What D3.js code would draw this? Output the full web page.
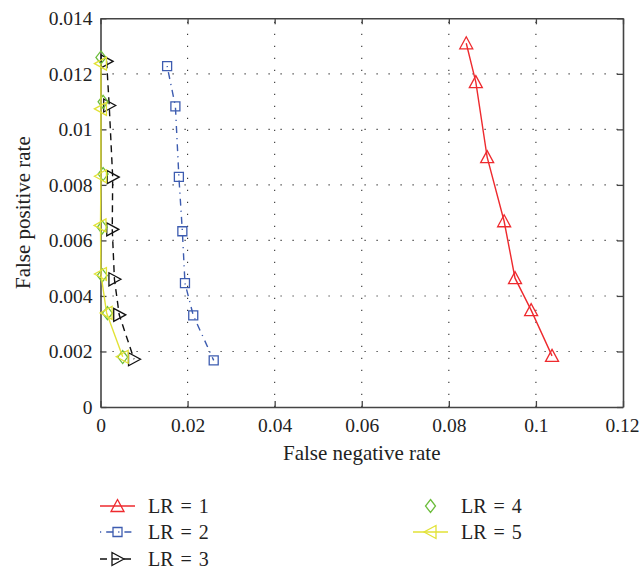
<!DOCTYPE html>
<html><head><meta charset="utf-8">
<script src="https://cdn.jsdelivr.net/npm/d3@7"></script>
<style>body{margin:0;background:#fff}svg{display:block}text{font-family:"Liberation Serif","DejaVu Serif",serif;fill:#222}</style>
</head><body><svg id="c" width="639" height="571"></svg>
<script>
const seriesNames = ["LR = 1","LR = 2","LR = 3","LR = 4","LR = 5"];
const fnr1 = [0.0840,0.0862,0.0888,0.0927,0.0952,0.0989,0.1037];
const fpr1 = [0.01310,0.01170,0.00900,0.00669,0.00464,0.00349,0.00184];
const fnr2 = [0.0153,0.0172,0.0180,0.0188,0.0194,0.0213,0.0260];
const fpr2 = [0.01228,0.01083,0.00829,0.00633,0.00446,0.00330,0.00168];
const fnr3 = [0.0014,0.0020,0.0028,0.0027,0.0032,0.0043,0.0077];
const fpr3 = [0.01245,0.01086,0.00828,0.00640,0.00460,0.00332,0.00172];
const fnr4 = [0.0001,0.0006,0.0006,0.0004,0.0004,0.0016,0.0051];
const fpr4 = [0.01259,0.01099,0.00839,0.00647,0.00474,0.00338,0.00180];
const fnr5 = [0.0001,0.0001,0.0001,0.0000,0.0001,0.0014,0.0051];
const fpr5 = [0.01237,0.01074,0.00831,0.00654,0.00479,0.00339,0.00181];
const xTicks = [0,0.02,0.04,0.06,0.08,0.1,0.12];
const yTicks = [0,0.002,0.004,0.006,0.008,0.01,0.012,0.014];

const svg = d3.select("#c");
const L=100.5, R=623, T=18.3, B=407;
const x = d3.scaleLinear().domain([0,0.12]).range([L,R]);
const y = d3.scaleLinear().domain([0,0.014]).range([B,T]);

// grid
const g = svg.append("g");
g.selectAll(".vg").data(xTicks.slice(1,-1)).join("line")
  .attr("x1",d=>x(d)).attr("x2",d=>x(d)).attr("y1",B).attr("y2",T)
  .attr("stroke","#333").attr("stroke-width",1.1).attr("stroke-dasharray","1.2,10.8");
g.selectAll(".hg").data(yTicks.slice(1,-1)).join("line")
  .attr("x1",L).attr("x2",R).attr("y1",d=>y(d)).attr("y2",d=>y(d))
  .attr("stroke","#333").attr("stroke-width",1.1).attr("stroke-dasharray","1.2,10.8");

// axes
const fmt = d=>String(d);
const ax = svg.append("g").attr("transform",`translate(0,${B})`)
  .call(d3.axisBottom(x).tickValues(xTicks).tickFormat(fmt).tickSizeInner(-6).tickSizeOuter(0).tickPadding(11));
const ay = svg.append("g").attr("transform",`translate(${L},0)`)
  .call(d3.axisLeft(y).tickValues(yTicks).tickFormat(fmt).tickSizeInner(-6).tickSizeOuter(0).tickPadding(8));
const axT = svg.append("g").attr("transform",`translate(0,${T})`)
  .call(d3.axisTop(x).tickValues(xTicks).tickFormat("").tickSizeInner(-6).tickSizeOuter(0));
const ayR = svg.append("g").attr("transform",`translate(${R},0)`)
  .call(d3.axisRight(y).tickValues(yTicks).tickFormat("").tickSizeInner(-6).tickSizeOuter(0));
[ax,ay,axT,ayR].forEach(a=>{
  a.selectAll("path").attr("stroke","#444").attr("stroke-width",1.6);
  a.selectAll("line").attr("stroke","#444").attr("stroke-width",1.3);
  a.selectAll("text").style("font-family","'Liberation Serif',serif").style("font-size","19.5px").attr("fill","#222");
});
ax.selectAll(".tick text").filter(d=>d===0.12).attr("text-anchor","end").attr("x",16);

svg.append("text").attr("x",(L+R)/2).attr("y",460).attr("text-anchor","middle").style("font-size","21px").text("False negative rate");
svg.append("text").attr("transform",`translate(30,${(T+B)/2}) rotate(-90)`).attr("text-anchor","middle").style("font-size","21px").text("False positive rate");

// symbols
function marker(sel, type, cx, cy, color){
  let p;
  if(type==="up") p=`M${cx},${cy-6.5}L${cx+6.5},${cy+5.5}L${cx-6.5},${cy+5.5}Z`;
  else if(type==="square") p=`M${cx-4.5},${cy-4.5}h9v9h-9Z`;
  else if(type==="right") p=`M${cx+6.5},${cy}L${cx-5.5},${cy+6.5}L${cx-5.5},${cy-6.5}Z`;
  else if(type==="left") p=`M${cx-6.5},${cy}L${cx+5.5},${cy+6.5}L${cx+5.5},${cy-6.5}Z`;
  else if(type==="diamond") p=`M${cx},${cy-6.5}L${cx+5},${cy}L${cx},${cy+6.5}L${cx-5},${cy}Z`;
  sel.append("path").attr("d",p).attr("fill","none").attr("stroke",color).attr("stroke-width",1.3);
}
const series = [
  {xs:fnr1, ys:fpr1, color:"#ee2a2e", dash:null, line:true, m:"up"},
  {xs:fnr2, ys:fpr2, color:"#3d5cb0", dash:"1.2,5,7,5", line:true, m:"square"},
  {xs:fnr3, ys:fpr3, color:"#111111", dash:"7,5", line:true, m:"right"},
  {xs:fnr4, ys:fpr4, color:"#6cbd3c", dash:null, line:false, m:"diamond"},
  {xs:fnr5, ys:fpr5, color:"#e2e236", dash:null, line:true, m:"left"}
];
const lineGen = d3.line().x(d=>x(d[0])).y(d=>y(d[1]));
const plot = svg.append("g");
series.forEach(s=>{
  const pts = s.xs.map((v,i)=>[v,s.ys[i]]);
  if(s.line){
    plot.append("path").attr("d",lineGen(pts)).attr("fill","none").attr("stroke",s.color)
      .attr("stroke-width",1.4).attr("stroke-dasharray",s.dash);
  }
  pts.forEach(p=>marker(plot,s.m,x(p[0]),y(p[1]),s.color));
});

// legend
const legPos = [[100,506],[100,532],[100,559],[413,506],[413,532]];
series.forEach((s,i)=>{
  const [lx,ly]=legPos[i];
  const lg = svg.append("g");
  if(s.line){
    lg.append("line").attr("x1",lx).attr("x2",lx+35).attr("y1",ly).attr("y2",ly)
      .attr("stroke",s.color).attr("stroke-width",1.4).attr("stroke-dasharray",s.dash);
  }
  marker(lg,s.m,lx+17.5,ly,s.color);
  lg.append("text").attr("x",lx+48).attr("y",ly+7).style("font-size","20px").style("word-spacing","2px").text(seriesNames[i]);
});
</script></body></html>
